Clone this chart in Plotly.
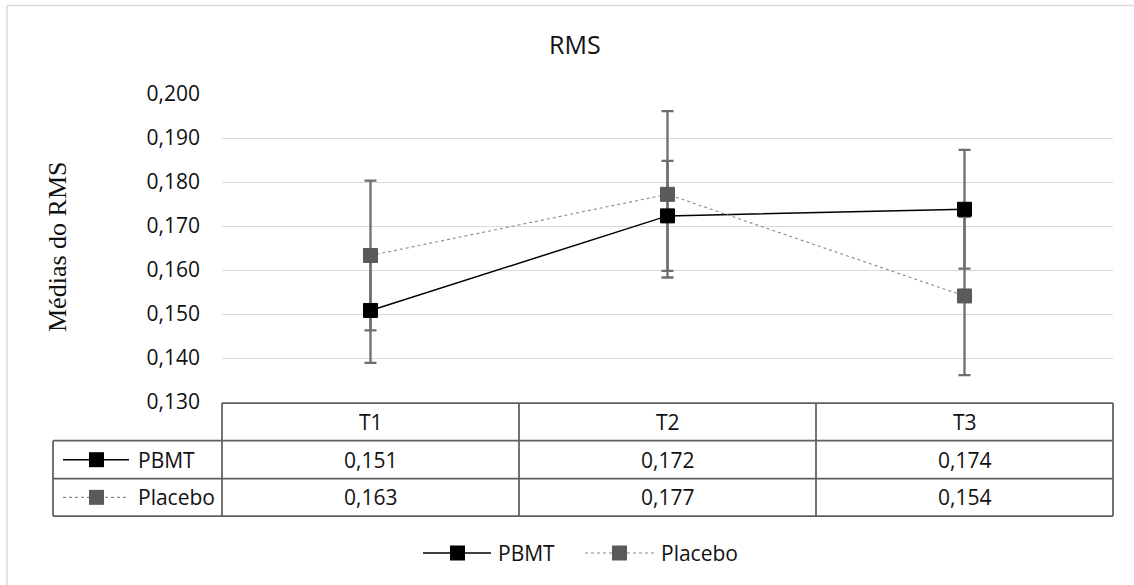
import plotly.graph_objects as go

# ---------------- data ----------------
categories = ["T1", "T2", "T3"]
series_names = ["PBMT", "Placebo"]
pbmt = [0.1508, 0.1723, 0.1738]
placebo = [0.1633, 0.1772, 0.1541]
pbmt_sd = [0.0119, 0.0125, 0.0135]
placebo_sd = [0.0170, 0.0189, 0.0180]
y_ticks = [0.130, 0.140, 0.150, 0.160, 0.170, 0.180, 0.190, 0.200]

# ---------------- styling ----------------
W_FIG, H_FIG = 1134, 585
L, R, T, B = 222, 1113, 94, 402
PW, PH = R - L, B - T
SANS = "Open Sans"
SERIF = "Liberation Serif"
TXT = "#111111"
BORDER = "#5f5f5f"
ERR = "#6e6e6e"
FS = 21
styles = {
    "PBMT": dict(line=dict(color="#000000", width=1.5), marker="#000000"),
    "Placebo": dict(line=dict(color="#8a8a8a", width=1.1, dash="dot"), marker="#5a5a5a"),
}
series_vals = {"PBMT": pbmt, "Placebo": placebo}
series_sd = {"PBMT": pbmt_sd, "Placebo": placebo_sd}

def px(x):
    return (x - L) / PW

def py(y):
    return (B - y) / PH

xr = [-0.5, len(categories) - 0.5]

def cat_paper(v):
    return (v - xr[0]) / (xr[1] - xr[0])

fig = go.Figure()

# error bars first (beneath markers)
for name in series_names:
    fig.add_trace(go.Scatter(
        x=categories, y=series_vals[name], mode="markers",
        marker=dict(size=1, color="rgba(0,0,0,0)"),
        error_y=dict(type="data", array=series_sd[name], visible=True,
                     color=ERR, thickness=2.3, width=6),
        showlegend=False, hoverinfo="skip"))

# lines + markers
for name in series_names:
    st = styles[name]
    fig.add_trace(go.Scatter(
        x=categories, y=series_vals[name], mode="lines+markers", name=name,
        line=st["line"],
        marker=dict(symbol="square", size=14, color=st["marker"],
                    line=dict(color=st["marker"], width=1)),
        showlegend=False))

shapes = []
annotations = []

# outer chart border (left & top visible)
shapes.append(dict(type="line", xref="paper", yref="paper",
                   x0=px(7), x1=px(1140), y0=py(5.5), y1=py(5.5),
                   line=dict(color="#d9d9d9", width=1.5)))
shapes.append(dict(type="line", xref="paper", yref="paper",
                   x0=px(7), x1=px(7), y0=py(5.5), y1=py(600),
                   line=dict(color="#d9d9d9", width=1.5)))

# ---------------- data table ----------------
row_tops = [403, 440.7, 478.7, 516]
bline = dict(color=BORDER, width=1.75)
shapes.append(dict(type="line", xref="paper", yref="paper",
                   x0=cat_paper(xr[0]), x1=cat_paper(xr[1]),
                   y0=py(row_tops[0]), y1=py(row_tops[0]), line=bline))
for yy in row_tops[1:]:
    shapes.append(dict(type="line", xref="paper", yref="paper",
                       x0=px(53), x1=cat_paper(xr[1]),
                       y0=py(yy), y1=py(yy), line=bline))
shapes.append(dict(type="line", xref="paper", yref="paper",
                   x0=px(53), x1=px(53), y0=py(row_tops[1]), y1=py(row_tops[3]), line=bline))
for i in range(len(categories) + 1):
    xv = cat_paper(xr[0] + i)
    shapes.append(dict(type="line", xref="paper", yref="paper",
                       x0=xv, x1=xv, y0=py(row_tops[0]), y1=py(row_tops[3]), line=bline))

for i, c in enumerate(categories):
    annotations.append(dict(text=c, xref="paper", yref="paper",
                            x=cat_paper(i), y=py((row_tops[0] + row_tops[1]) / 2),
                            xanchor="center", yanchor="middle", showarrow=False,
                            font=dict(family=SANS, size=FS, color=TXT)))
for r, name in enumerate(series_names):
    yc = (row_tops[r + 1] + row_tops[r + 2]) / 2
    for i, v in enumerate(series_vals[name]):
        annotations.append(dict(text=f"{v:.3f}".replace(".", ","), xref="paper", yref="paper",
                                x=cat_paper(i), y=py(yc),
                                xanchor="center", yanchor="middle", showarrow=False,
                                font=dict(family=SANS, size=FS, color=TXT)))

def legend_key(x_line0, x_line1, x_mark, x_text, yc, name):
    st = styles[name]
    ln = dict(color=st["line"]["color"], width=st["line"]["width"])
    if "dash" in st["line"]:
        ln["dash"] = st["line"]["dash"]
    shapes.append(dict(type="line", xref="paper", yref="paper",
                       x0=px(x_line0), x1=px(x_line1), y0=py(yc), y1=py(yc), line=ln))
    shapes.append(dict(type="rect", xref="paper", yref="paper",
                       x0=px(x_mark - 7.5), x1=px(x_mark + 7.5),
                       y0=py(yc + 7.5), y1=py(yc - 7.5),
                       fillcolor=st["marker"], line=dict(width=0)))
    annotations.append(dict(text=name, xref="paper", yref="paper",
                            x=px(x_text), y=py(yc), xanchor="left", yanchor="middle",
                            showarrow=False, font=dict(family=SANS, size=FS, color=TXT)))

for r, name in enumerate(series_names):
    yc = (row_tops[r + 1] + row_tops[r + 2]) / 2
    legend_key(63, 129, 96.5, 136, yc, name)

legend_key(423, 491, 457.5, 496, 553, "PBMT")
legend_key(585, 654, 619.5, 659, 553, "Placebo")

annotations.append(dict(text="RMS", xref="paper", yref="paper", x=px(575), y=py(44),
                        xanchor="center", yanchor="middle", showarrow=False,
                        font=dict(family=SANS, size=25, color=TXT)))
annotations.append(dict(text="Médias do RMS", xref="paper", yref="paper", x=px(57), y=py(247),
                        xanchor="center", yanchor="middle", textangle=-90, showarrow=False,
                        font=dict(family=SERIF, size=26, color=TXT)))

fig.update_layout(
    width=W_FIG, height=H_FIG,
    margin=dict(l=L, r=W_FIG - R, t=T, b=H_FIG - B, pad=0),
    paper_bgcolor="white", plot_bgcolor="white",
    separators=",.",
    shapes=shapes, annotations=annotations,
    showlegend=False,
    xaxis=dict(type="category", range=xr, showticklabels=False, showgrid=False,
               zeroline=False, showline=False, ticks="", fixedrange=True),
    yaxis=dict(range=[y_ticks[0], y_ticks[-1]], tickvals=y_ticks, tickformat=".3f",
               showgrid=True, gridcolor="#d9d9d9", gridwidth=1.3,
               zeroline=False, showline=False, ticks="", ticklabelstandoff=21,
               tickfont=dict(family=SANS, size=FS, color=TXT)),
)

fig.write_html("out.html")
